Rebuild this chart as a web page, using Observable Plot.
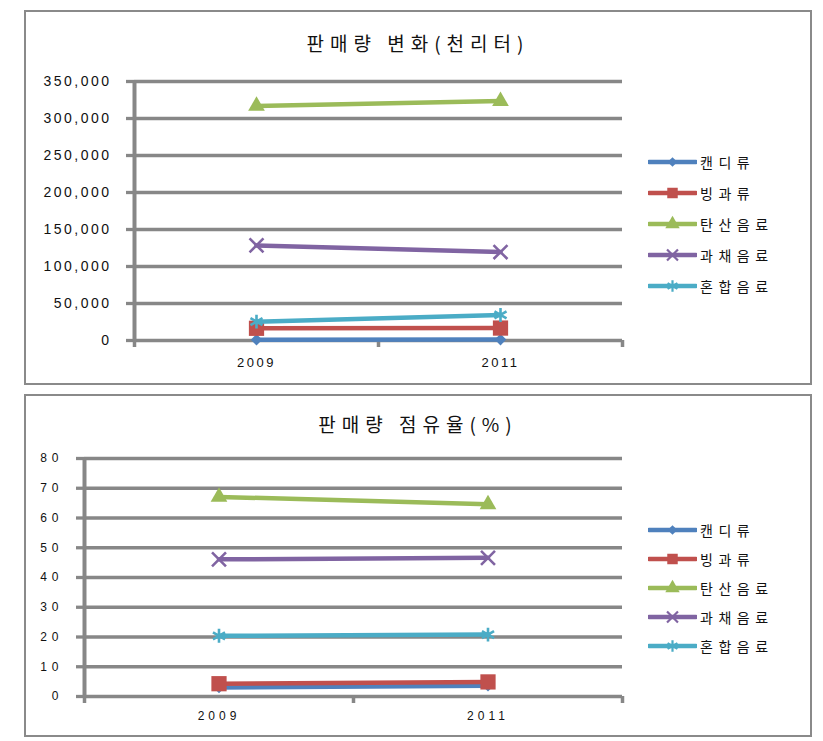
<!DOCTYPE html>
<html><head><meta charset="utf-8">
<script src="https://cdn.jsdelivr.net/npm/d3@7"></script>
<script src="https://cdn.jsdelivr.net/npm/@observablehq/plot@0.6"></script>
<style>
body{margin:0;background:#fff;width:823px;height:741px;position:relative;overflow:hidden;font-family:"Noto Sans CJK KR",sans-serif}
.box{position:absolute;left:24px;width:784px;border:2px solid #8a8a8a;background:#fff}
.title{position:absolute;left:0;width:784px;text-align:center;font-size:19px;line-height:24px;letter-spacing:6px;color:#111;white-space:nowrap}
.legend{position:absolute;left:622px;top:0}
.legrow{position:absolute;left:0;height:20px;display:flex;align-items:center;white-space:nowrap}
.legrow span{font-size:14px;letter-spacing:5.5px;color:#111;margin-left:3px}
.plot{position:absolute;left:0;top:0}
.c1 g[aria-label="y-axis tick label"] text{letter-spacing:2.5px}
.c1 g[aria-label="x-axis tick label"] text{letter-spacing:2.5px}
.c2 g[aria-label="y-axis tick label"] text{letter-spacing:5px}
.c2 g[aria-label="x-axis tick label"] text{letter-spacing:4px}
</style></head><body>
<div id="c1" class="box" style="top:10px;height:371px"></div>
<div id="c2" class="box" style="top:394px;height:339px"></div>
<script>
// ---- data ----
const years = ["2009", "2011"];
const seriesNames = ["캔디류", "빙과류", "탄산음료", "과채음료", "혼합음료"];
const seriesColors = ["#4f81bd", "#c0504d", "#9bbb59", "#8064a2", "#4bacc6"];
const seriesSymbols = ["diamond2", "square", "triangle", "times", "asterisk"];

// 판매량 변화 (천리터)
const volumeCandy = [1000, 1200];
const volumeIce = [16500, 16800];
const volumeSoda = [317000, 323500];
const volumeJuice = [128500, 119500];
const volumeMixed = [25500, 34500];
const volumeTicks = [0, 50000, 100000, 150000, 200000, 250000, 300000, 350000];

// 판매량 점유율 (%)
const shareCandy = [3.0, 3.6];
const shareIce = [4.3, 4.9];
const shareSoda = [67.1, 64.6];
const shareJuice = [46.1, 46.6];
const shareMixed = [20.4, 20.8];
const shareTicks = [0, 10, 20, 30, 40, 50, 60, 70, 80];

const volumeSeries = [volumeCandy, volumeIce, volumeSoda, volumeJuice, volumeMixed];
const shareSeries = [shareCandy, shareIce, shareSoda, shareJuice, shareMixed];

const grid = "#878787";

function makeRows(series) {
  const rows = [];
  series.forEach((vals, s) => vals.forEach((v, i) => rows.push({s, name: seriesNames[s], i: i + 0.5, year: years[i], value: v})));
  return rows;
}

const symSize = {diamond2: 5.2, square: 8.6, triangle: 6.2, times: 6.4, asterisk: 6.6};

function chart({rows, ticks, height, marginLeft, marginTop, marginBottom, yFormat, yFont, xFont, yPad, xPad, tickLen, cls}) {
  const marks = [
    Plot.ruleY(ticks, {stroke: grid, strokeWidth: 3.3}),
    Plot.axisY({ticks, label: null, tickSize: tickLen, tickPadding: yPad, tickFormat: yFormat, stroke: grid, strokeWidth: 3.3, fill: "#111", fontSize: yFont}),
    Plot.ruleX([0], {y1: 0, y2: ticks[ticks.length - 1], stroke: grid, strokeWidth: 4}),
    Plot.axisX({ticks: [0, 1, 2], label: null, tickSize: 7, tickFormat: () => "", stroke: grid, strokeWidth: 3.5}),
    Plot.axisX({ticks: [0.5, 1.5], label: null, tickSize: 0, tickPadding: xPad, tickFormat: d => years[Math.floor(d)], fill: "#111", fontSize: xFont})
  ];
  seriesNames.forEach((n, s) => {
    const d = rows.filter(r => r.s === s);
    marks.push(Plot.line(d, {x: "i", y: "value", stroke: seriesColors[s], strokeWidth: 4.5}));
    const sym = seriesSymbols[s];
    const filled = sym === "diamond2" || sym === "square" || sym === "triangle";
    marks.push(Plot.dot(d, {x: "i", y: "value", symbol: () => sym, r: symSize[sym],
      fill: filled ? seriesColors[s] : "none", stroke: seriesColors[s], strokeWidth: filled ? 0 : 2.6}));
  });
  return Plot.plot({
    width: 784, height, marginLeft, marginRight: 188, marginTop, marginBottom,
    className: cls,
    style: {fontFamily: "'Liberation Sans', sans-serif", background: "transparent", color: "#111"},
    x: {type: "linear", domain: [0, 2], axis: null, label: null},
    y: {domain: [ticks[0], ticks[ticks.length - 1]], axis: null, label: null},
    marks
  });
}

function legend(container, top, step) {
  const lg = document.createElement("div");
  lg.className = "legend";
  seriesNames.forEach((n, s) => {
    const row = document.createElement("div");
    row.className = "legrow";
    row.style.top = (top + s * step - 10) + "px";
    const svg = d3.create("svg").attr("width", 49).attr("height", 20);
    svg.append("line").attr("x1", 1).attr("x2", 48).attr("y1", 10).attr("y2", 10)
      .attr("stroke", seriesColors[s]).attr("stroke-width", 4.5).attr("stroke-linecap", "round");
    const sym = seriesSymbols[s];
    const filled = sym === "diamond2" || sym === "square" || sym === "triangle";
    const typ = {diamond2: d3.symbolDiamond2, square: d3.symbolSquare, triangle: d3.symbolTriangle, times: d3.symbolTimes, asterisk: d3.symbolAsterisk}[sym];
    const sz = {diamond2: 60, square: 110, triangle: 90, times: 80, asterisk: 90}[sym];
    svg.append("path").attr("d", d3.symbol(typ, sz)()).attr("transform", "translate(24.5,10)")
      .attr("fill", filled ? seriesColors[s] : "none").attr("stroke", seriesColors[s]).attr("stroke-width", filled ? 0 : 2.2);
    row.appendChild(svg.node());
    const t = document.createElement("span");
    t.textContent = n;
    row.appendChild(t);
    lg.appendChild(row);
  });
  container.appendChild(lg);
}

function title(container, text, top) {
  const t = document.createElement("div");
  t.className = "title";
  t.style.top = top + "px";
  t.textContent = text;
  container.appendChild(t);
}

const c1 = document.getElementById("c1");
const p1 = chart({rows: makeRows(volumeSeries), ticks: volumeTicks, height: 371, marginLeft: 108, marginTop: 69, marginBottom: 43,
  yFormat: d3.format(","), yFont: 14, xFont: 13, yPad: 15, xPad: 17, tickLen: 8, cls: "c1"});
p1.classList.add("plot");
c1.appendChild(p1);
title(c1, "판매량 변화(천리터)", 19);
legend(c1, 150, 31);

const c2 = document.getElementById("c2");
const p2 = chart({rows: makeRows(shareSeries), ticks: shareTicks, height: 339, marginLeft: 58, marginTop: 62, marginBottom: 39,
  yFormat: d => String(d), yFont: 12, xFont: 12, yPad: 13, xPad: 15, tickLen: 8, cls: "c2"});
p2.classList.add("plot");
c2.appendChild(p2);
title(c2, "판매량 점유율(%)", 16);
legend(c2, 134, 29);
</script>
</body></html>
